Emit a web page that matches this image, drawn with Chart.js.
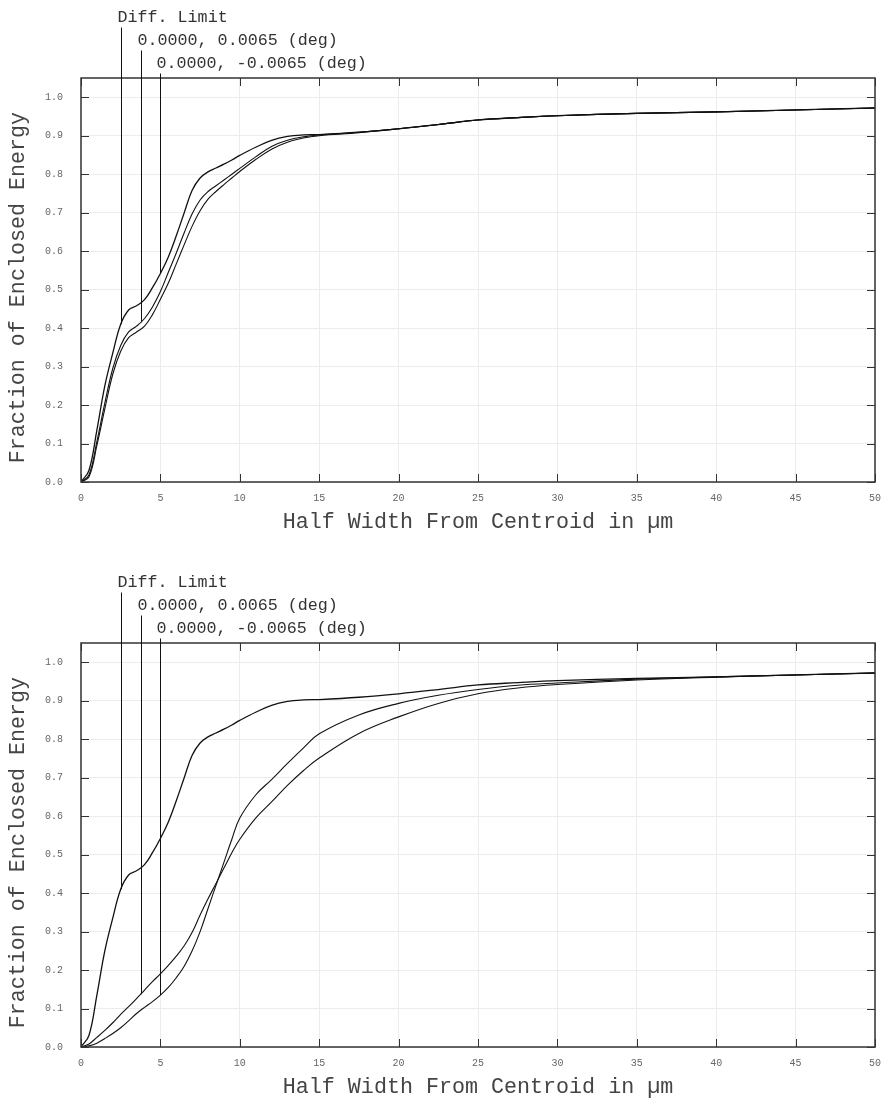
<!DOCTYPE html>
<html><head><meta charset="utf-8">
<script src="https://cdn.jsdelivr.net/npm/chart.js@4/dist/chart.umd.min.js"></script>
<style>
html,body{margin:0;padding:0;background:#fff;}
#wrap{position:relative;width:883px;height:1099px;background:#fff;}
#c1{position:absolute;left:0;top:0;}
#c2{position:absolute;left:0;top:565px;}
</style></head><body>
<div id="wrap">
<canvas id="c1" width="883" height="565"></canvas>
<canvas id="c2" width="883" height="534"></canvas>
</div>
<script>
// ---- data ----
const halfWidth = [0,0.5,1,1.5,2,2.5,3,3.5,4,4.5,5,5.5,6,6.5,7,7.5,8,8.5,9,9.5,10,11,12,13,14,15,17.5,20,22.5,25,27.5,30,35,40,45,50];
const diffLimit = [0,0.03,0.135,0.25,0.335,0.41,0.447,0.458,0.474,0.505,0.542,0.585,0.64,0.7,0.758,0.79,0.806,0.816,0.826,0.837,0.849,0.87,0.888,0.898,0.902,0.903,0.909,0.918,0.929,0.941,0.947,0.952,0.958,0.962,0.967,0.972];
// top panel
const topPlus  = [0,0.018,0.105,0.205,0.295,0.355,0.39,0.405,0.425,0.455,0.495,0.545,0.595,0.648,0.697,0.733,0.755,0.77,0.785,0.8,0.815,0.845,0.872,0.888,0.897,0.902,0.909,0.918,0.929,0.941,0.947,0.952,0.958,0.962,0.967,0.972];
const topMinus = [0,0.013,0.095,0.19,0.28,0.34,0.375,0.39,0.405,0.435,0.475,0.517,0.567,0.617,0.665,0.705,0.735,0.755,0.773,0.79,0.807,0.838,0.865,0.883,0.894,0.9,0.908,0.918,0.929,0.941,0.947,0.952,0.958,0.962,0.967,0.972];
// bottom panel
const botPlus  = [0,0.008,0.025,0.043,0.063,0.085,0.105,0.126,0.148,0.17,0.19,0.212,0.236,0.263,0.298,0.343,0.385,0.425,0.465,0.505,0.54,0.595,0.637,0.68,0.718,0.751,0.815,0.858,0.893,0.918,0.933,0.942,0.954,0.961,0.967,0.972];
const botMinus = [0,0.003,0.01,0.022,0.035,0.05,0.068,0.087,0.103,0.118,0.135,0.155,0.18,0.21,0.25,0.3,0.36,0.42,0.48,0.54,0.595,0.655,0.695,0.737,0.777,0.814,0.863,0.893,0.914,0.929,0.94,0.946,0.956,0.962,0.967,0.972];

const seriesLabels = ['Diff. Limit','0.0000, 0.0065 (deg)','0.0000, -0.0065 (deg)'];
const leaderX = [2.5,3.75,5];
const leaderEndTop = [0.41,0.415,0.542];
const leaderEndBottom = [0.41,0.137,0.135];
const xTitle = 'Half Width From Centroid in µm';
const yTitle = 'Fraction of Enclosed Energy';

const FONT = '"Liberation Mono","Courier New",monospace';

function pts(arr){ return halfWidth.map((x,i)=>({x:x,y:arr[i]})); }

function decor(leaderEnds){
  return {
    id:'decor',
    afterDraw(chart){
      const ctx = chart.ctx, a = chart.chartArea, x = chart.scales.x, y = chart.scales.y;
      ctx.save();
      // frame
      ctx.strokeStyle = '#333'; ctx.lineWidth = 1.5;
      ctx.strokeRect(a.left, a.top, a.right - a.left, a.bottom - a.top);
      // inward tick marks
      ctx.lineWidth = 1; ctx.strokeStyle = '#333';
      ctx.beginPath();
      x.ticks.forEach(t => {
        const px = Math.round(x.getPixelForValue(t.value)) + 0.5;
        ctx.moveTo(px, a.bottom); ctx.lineTo(px, a.bottom - 8);
        ctx.moveTo(px, a.top); ctx.lineTo(px, a.top + 8);
      });
      y.ticks.forEach(t => {
        const py = Math.round(y.getPixelForValue(t.value)) + 0.5;
        ctx.moveTo(a.left, py); ctx.lineTo(a.left + 8, py);
        ctx.moveTo(a.right, py); ctx.lineTo(a.right - 8, py);
      });
      ctx.stroke();
      // leader lines & labels
      ctx.strokeStyle = '#111'; ctx.fillStyle = '#333';
      ctx.font = '16.7px ' + FONT; ctx.textBaseline = 'alphabetic'; ctx.textAlign = 'left';
      seriesLabels.forEach((lab, i) => {
        const px = Math.round(x.getPixelForValue(leaderX[i])) + 0.5;
        const base = a.top - 56.5 + 23 * i;
        ctx.fillText(lab, px - 4, base);
        ctx.beginPath();
        ctx.moveTo(px, base + 6);
        ctx.lineTo(px, y.getPixelForValue(leaderEnds[i]));
        ctx.stroke();
      });
      // axis titles
      ctx.fillStyle = '#444'; ctx.font = '21.7px ' + FONT;
      ctx.textAlign = 'center'; ctx.textBaseline = 'middle';
      ctx.fillText(xTitle, (a.left + a.right) / 2, a.bottom + 40);
      ctx.translate(18, y.getPixelForValue(0.5) - 2);
      ctx.rotate(-Math.PI / 2);
      ctx.fillText(yTitle, 0, 0);
      ctx.restore();
    }
  };
}

function makeChart(id, s1, s2, leaderEnds){
  const canvas = document.getElementById(id);
  const H = canvas.height;
  const ds = (arr, w) => ({data: pts(arr), borderColor:'#111', borderWidth:w, pointRadius:0, fill:false, tension:0.4});
  return new Chart(canvas, {
    type:'line',
    data:{ datasets:[ ds(diffLimit,1.3), ds(s1,1.1), ds(s2,1.1) ] },
    options:{
      responsive:false, animation:false, devicePixelRatio:1,
      layout:{ padding:{ top:78, right:8, left:0, bottom:0 } },
      plugins:{ legend:{display:false}, tooltip:{enabled:false} },
      scales:{
        x:{ type:'linear', min:0, max:50,
            ticks:{ stepSize:5, includeBounds:false, padding:10, maxRotation:0, color:'#666', font:{family:FONT, size:10}, callback:v=>String(v) },
            grid:{ color:'#ececec', lineWidth:1, drawTicks:false },
            border:{ display:false },
            afterFit(s){ s.height = H - 482; s.paddingLeft = 0; s.paddingRight = 0; } },
        y:{ type:'linear', min:0, max:1.05,
            ticks:{ stepSize:0.1, includeBounds:false, padding:18, color:'#666', font:{family:FONT, size:10}, callback:v=>Number(v).toFixed(1) },
            grid:{ color:'#ececec', lineWidth:1, drawTicks:false },
            border:{ display:false },
            afterFit(s){ s.width = 81; s.paddingTop = 0; s.paddingBottom = 0; } }
      }
    },
    plugins:[decor(leaderEnds)]
  });
}

makeChart('c1', topPlus, topMinus, leaderEndTop);
makeChart('c2', botPlus, botMinus, leaderEndBottom);
</script>
</body></html>
